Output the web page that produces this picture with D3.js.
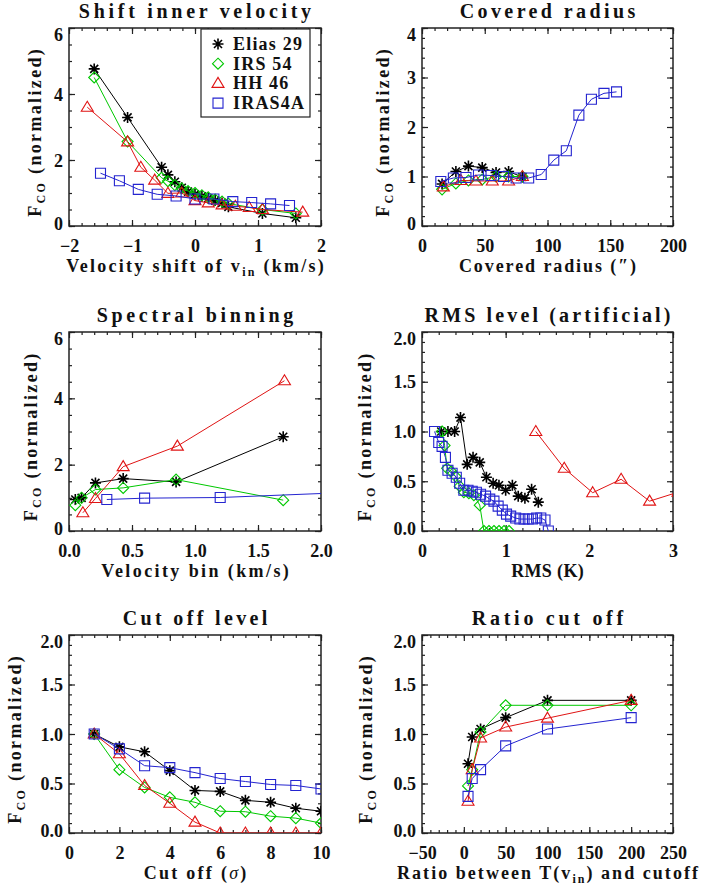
<!DOCTYPE html>
<html>
<head>
<meta charset="utf-8">
<script src="https://cdn.jsdelivr.net/npm/d3@7"></script>
<style>
  body { margin: 0; background: #fff; }
  svg text { font-family: "Liberation Serif", serif; font-weight: bold; fill: #111; }
</style>
</head>
<body>
<svg id="fig" width="701" height="890"></svg>
<script>
// values, [x, y] pairs

// Shift inner velocity
var shiftElias = [[-1.6,4.76],[-1.07,3.29],[-0.53,1.78],[-0.43,1.55],[-0.32,1.34],[-0.21,1.16],[-0.11,1.04],[0,0.96],[0.11,0.9],[0.21,0.84],[0.32,0.77],[0.43,0.7],[0.53,0.58],[1.07,0.38],[1.6,0.25]];
var shiftIrs = [[-1.6,4.5],[-1.07,2.56],[-0.53,1.46],[-0.43,1.36],[-0.32,1.24],[-0.21,1.14],[-0.11,1.06],[0,1.0],[0.11,0.93],[0.21,0.87],[0.32,0.8],[0.43,0.74],[0.53,0.68],[1.07,0.5],[1.6,0.38]];
var shiftHh = [[-1.71,3.6],[-1.07,2.55],[-0.86,1.78],[-0.64,1.39],[-0.43,0.99],[-0.21,1.0],[0,0.77],[0.21,0.7],[0.43,0.64],[0.64,0.6],[0.86,0.56],[1.07,0.5],[1.71,0.42]];
var shiftIras = [[-1.5,1.6],[-1.2,1.37],[-0.9,1.11],[-0.6,0.96],[-0.3,0.91],[0,0.82],[0.3,0.82],[0.6,0.74],[0.9,0.71],[1.2,0.67],[1.5,0.62]];

// Covered radius
var radElias = [[16,0.85],[27,1.1],[37,1.21],[48,1.18],[59,1.08],[69,1.1],[80,0.99]];
var radIrs = [[16,0.74],[27,0.86],[37,0.92],[48,0.94],[59,1.0],[69,1.0],[80,1.0]];
var radHh = [[17,0.79],[31,0.92],[43,0.91],[56,0.91],[69,0.91],[80,1.0]];
var radIras = [[15,0.9],[25,0.97],[35,0.98],[45,1.03],[55,1.02],[65,1.0],[75,0.97],[85,0.97],[95,1.04],[105,1.33],[115,1.52],[125,2.24],[135,2.56],[145,2.68],[155,2.71]];

// Spectral binning
var binElias = [[0.05,0.95],[0.1,1.0],[0.21,1.45],[0.43,1.58],[0.85,1.48],[1.7,2.84]];
var binIrs = [[0.05,0.78],[0.1,1.0],[0.21,1.25],[0.43,1.3],[0.85,1.55],[1.7,0.93]];
var binHh = [[0.11,0.55],[0.21,0.98],[0.43,1.94],[0.86,2.56],[1.71,4.53]];
var binIras = [[0.3,0.95],[0.6,0.99],[1.2,1.01],[2.4,1.19]];

// RMS level (artificial)
var rmsElias = [[0.23,1.0],[0.31,1.0],[0.39,1.0],[0.46,1.14],[0.54,0.67],[0.61,0.74],[0.69,0.69],[0.77,0.54],[0.85,0.48],[0.92,0.46],[1.0,0.41],[1.08,0.46],[1.15,0.35],[1.23,0.33],[1.31,0.42],[1.39,0.29]];
var rmsIrs = [[0.24,1.0],[0.27,0.86],[0.3,0.63],[0.35,0.6],[0.4,0.55],[0.45,0.45],[0.5,0.39],[0.56,0.38],[0.62,0.36],[0.69,0.26],[0.74,0.0],[0.8,0.0],[0.86,0.0],[0.92,0.0],[0.98,0.0],[1.04,0.0]];
var rmsHh = [[1.36,1.0],[1.7,0.63],[2.04,0.385],[2.38,0.52],[2.72,0.3],[3.06,0.39]];
var rmsIras = [[0.15,1.0],[0.2,0.89],[0.24,0.85],[0.28,0.74],[0.31,0.61],[0.36,0.58],[0.41,0.54],[0.45,0.48],[0.5,0.41],[0.55,0.41],[0.6,0.4],[0.65,0.39],[0.7,0.37],[0.76,0.35],[0.81,0.32],[0.86,0.3],[0.91,0.25],[0.96,0.21],[1.01,0.17],[1.06,0.15],[1.12,0.13],[1.17,0.12],[1.22,0.12],[1.27,0.12],[1.32,0.12],[1.37,0.13],[1.42,0.13],[1.47,0.11],[1.51,0.0]];

// Cut off level
var cutElias = [[1,1.0],[2,0.87],[3,0.82],[4,0.63],[5,0.43],[6,0.42],[7,0.33],[8,0.31],[9,0.25],[10,0.22]];
var cutIrs = [[1,1.0],[2,0.64],[3,0.46],[4,0.36],[5,0.31],[6,0.22],[7,0.215],[8,0.17],[9,0.15],[10,0.1]];
var cutHh = [[1,1.0],[2,0.8],[3,0.48],[4,0.3],[5,0.11],[6,0],[7,0],[8,0],[9,0],[10,0]];
var cutIras = [[1,1.0],[2,0.85],[3,0.68],[4,0.66],[5,0.61],[6,0.55],[7,0.52],[8,0.49],[9,0.48],[10,0.445]];

// Ratio cut off
var ratioElias = [[5,0.70],[10,0.97],[20,1.05],[50,1.165],[100,1.34],[200,1.34]];
var ratioIrs = [[5,0.475],[10,0.64],[20,1.02],[50,1.29],[100,1.29],[200,1.29]];
var ratioHh = [[5,0.32],[10,0.64],[20,0.96],[50,1.07],[100,1.16],[200,1.34]];
var ratioIras = [[5,0.37],[10,0.55],[20,0.64],[50,0.88],[100,1.05],[200,1.165]];

var sources = ["Elias 29", "IRS 54", "HH 46", "IRAS4A"];
var colors = ["#000000", "#00c800", "#e01414", "#2424d0"];
var shapes = ["asterisk", "diamond", "triangle", "square"];

var svg = d3.select("#fig");

var cols = [[69, 321], [422, 673]];
var rows = [[28, 226], [332, 531], [635, 833]];

var f1 = function(d) { return d3.format(".1f")(d); };
var f0 = function(d) { return d < 0 ? "\u2212" + Math.abs(d) : "" + d; };

var panels = [
  {title: "Shift inner velocity", tw: 236, col: 0, row: 0, xd: [-2, 2], yd: [0, 6], xt: [-2,-1,0,1,2], xm: 0.2, yt: [0,2,4,6], ym: 0.5, xf: f0, yf: f0,
   xtitle: ["Velocity shift of v", "in", " (km/s)"], xw: 260, series: [shiftElias, shiftIrs, shiftHh, shiftIras], ytx: 41, legend: true},
  {title: "Covered radius", tw: 179, col: 1, row: 0, xd: [0, 200], yd: [0, 4], xt: [0,50,100,150,200], xm: 10, yt: [0,1,2,3,4], ym: 0.2, xf: f0, yf: f0,
   xtitle: ["Covered radius (\u2033)"], xw: 179, series: [radElias, radIrs, radHh, radIras], ytx: 389},
  {title: "Spectral binning", tw: 200, col: 0, row: 1, xd: [0, 2], yd: [0, 6], xt: [0,0.5,1,1.5,2], xm: 0.1, yt: [0,2,4,6], ym: 0.5, xf: f1, yf: f0,
   xtitle: ["Velocity bin (km/s)"], xw: 190, series: [binElias, binIrs, binHh, binIras], ytx: 37},
  {title: "RMS level (artificial)", tw: 249, col: 1, row: 1, xd: [0, 3], yd: [0, 2], xt: [0,1,2,3], xm: 0.2, yt: [0,0.5,1,1.5,2], ym: 0.1, xf: f0, yf: f1,
   xtitle: ["RMS (K)"], xw: 73, series: [rmsElias, rmsIrs, rmsHh, rmsIras], ytx: 371},
  {title: "Cut off level", tw: 148, col: 0, row: 2, xd: [0, 10], yd: [0, 2], xt: [0,2,4,6,8,10], xm: 0.5, yt: [0,0.5,1,1.5,2], ym: 0.1, xf: f0, yf: f1,
   xtitle: ["Cut off (", "\u03c3", ")"], xw: 105, series: [cutElias, cutIrs, cutHh, cutIras], ytx: 21},
  {title: "Ratio cut off", tw: 155, col: 1, row: 2, xd: [-50, 250], yd: [0, 2], xt: [-50,0,50,100,150,200,250], xm: 10, yt: [0,0.5,1,1.5,2], ym: 0.1, xf: f0, yf: f1,
   xtitle: ["Ratio between T(v", "in", ") and cutoff"], xw: 303, series: [ratioElias, ratioIrs, ratioHh, ratioIras], ytx: 372}
];

function symbolPath(type) {
  if (type === "asterisk") {
    var r = 5.5, a = 4;
    return "M0,-" + r + "V" + r + "M-" + r + ",0H" + r + "M-" + a + ",-" + a + "L" + a + "," + a + "M-" + a + "," + a + "L" + a + ",-" + a;
  }
  if (type === "diamond") return "M0,-5.5L5.5,0L0,5.5L-5.5,0Z";
  if (type === "triangle") return "M0,-6L6,4L-6,4Z";
  return "M-5,-5H5V5H-5Z";
}

// stretch a text to a given width with letter spacing
function fit(t, target) {
  var node = t.node();
  var n = node.getNumberOfChars();
  var len = node.getComputedTextLength();
  var ls = (target - len) / n;
  t.attr("letter-spacing", ls);
  if (t.attr("text-anchor") === "middle") t.attr("dx", ls / 2);
}

panels.forEach(function(p, i) {
  var x0 = cols[p.col][0], x1 = cols[p.col][1];
  var y0 = rows[p.row][0], y1 = rows[p.row][1];
  var x = d3.scaleLinear().domain(p.xd).range([x0, x1]);
  var y = d3.scaleLinear().domain(p.yd).range([y1, y0]);
  var g = svg.append("g");

  var clipId = "clip" + i;
  svg.append("clipPath").attr("id", clipId)
    .append("rect").attr("x", x0).attr("y", y0).attr("width", x1 - x0).attr("height", y1 - y0);

  var xMinor = d3.range(p.xd[0], p.xd[1] + p.xm / 2, p.xm);
  var yMinor = d3.range(p.yd[0], p.yd[1] + p.ym / 2, p.ym);

  // ticks on all four sides, pointing inward
  var axes = g.append("g").attr("color", "#222");
  var bot = axes.append("g").attr("transform", "translate(0," + y1 + ")")
    .call(d3.axisBottom(x).tickValues(p.xt).tickSizeInner(-6).tickSizeOuter(0).tickFormat(p.xf));
  bot.selectAll("text").attr("y", 26).attr("dy", null);
  axes.append("g").attr("transform", "translate(0," + y1 + ")")
    .call(d3.axisBottom(x).tickValues(xMinor).tickSize(-3).tickFormat(""));
  axes.append("g").attr("transform", "translate(0," + y0 + ")")
    .call(d3.axisTop(x).tickValues(p.xt).tickSize(-6).tickFormat(""));
  axes.append("g").attr("transform", "translate(0," + y0 + ")")
    .call(d3.axisTop(x).tickValues(xMinor).tickSize(-3).tickFormat(""));
  var left = axes.append("g").attr("transform", "translate(" + x0 + ",0)")
    .call(d3.axisLeft(y).tickValues(p.yt).tickSizeInner(-6).tickSizeOuter(0).tickPadding(6).tickFormat(p.yf));
  left.selectAll("text").attr("dy", "0.34em")
    .attr("y", function(d) { return d === p.yd[1] ? 6 : (d === p.yd[0] ? -3 : 0); });
  axes.append("g").attr("transform", "translate(" + x0 + ",0)")
    .call(d3.axisLeft(y).tickValues(yMinor).tickSize(-3).tickFormat(""));
  axes.append("g").attr("transform", "translate(" + x1 + ",0)")
    .call(d3.axisRight(y).tickValues(p.yt).tickSize(-6).tickFormat(""));
  axes.append("g").attr("transform", "translate(" + x1 + ",0)")
    .call(d3.axisRight(y).tickValues(yMinor).tickSize(-3).tickFormat(""));
  axes.selectAll(".domain").remove();
  axes.selectAll("line").attr("stroke-width", 1.2);
  axes.selectAll("text").attr("font-size", 18).attr("font-family", null).attr("fill", "#111");

  g.append("rect").attr("x", x0).attr("y", y0).attr("width", x1 - x0).attr("height", y1 - y0)
    .attr("fill", "none").attr("stroke", "#222").attr("stroke-width", 1.5);

  // data
  var plot = g.append("g").attr("clip-path", "url(#" + clipId + ")");
  var line = d3.line().x(function(d) { return x(d[0]); }).y(function(d) { return y(d[1]); });
  p.series.forEach(function(s, k) {
    plot.append("path").datum(s).attr("d", line)
      .attr("fill", "none").attr("stroke", colors[k]).attr("stroke-width", 1);
    plot.selectAll(null).data(s).enter().append("path")
      .attr("transform", function(d) { return "translate(" + x(d[0]) + "," + y(d[1]) + ")"; })
      .attr("d", symbolPath(shapes[k]))
      .attr("fill", "none").attr("stroke", colors[k])
      .attr("stroke-width", k === 0 ? 1.6 : 1.1);
  });

  // titles
  var cx = (x0 + x1) / 2;
  var t = g.append("text").attr("x", cx).attr("y", y0 - 10).attr("text-anchor", "middle")
    .attr("font-size", 20).text(p.title);
  fit(t, p.tw);

  var xt = g.append("text").attr("x", cx).attr("y", y1 + 46).attr("text-anchor", "middle").attr("font-size", 18);
  xt.append("tspan").text(p.xtitle[0]);
  if (p.xtitle.length > 1) {
    if (p.xtitle[1] === "\u03c3") {
      xt.append("tspan").attr("font-style", "italic").attr("font-weight", "normal").text(p.xtitle[1]);
    } else {
      xt.append("tspan").attr("font-size", 12).attr("dy", 4).text(p.xtitle[1]);
    }
    xt.append("tspan").attr("dy", p.xtitle[1] === "\u03c3" ? 0 : -4).text(p.xtitle[2]);
  }
  fit(xt, p.xw);

  var yt = g.append("text").attr("text-anchor", "middle").attr("font-size", 18)
    .attr("transform", "translate(" + p.ytx + "," + ((y0 + y1) / 2 + 6) + ") rotate(-90)");
  yt.append("tspan").text("F");
  yt.append("tspan").attr("font-size", 12).attr("dy", 4).text("CO");
  yt.append("tspan").attr("dy", -4).text(" (normalized)");
  fit(yt, 170);

  if (p.legend) {
    var lg = g.append("g");
    lg.append("rect").attr("x", 201).attr("y", 29).attr("width", 109).attr("height", 88)
      .attr("fill", "#fff").attr("stroke", "#222").attr("stroke-width", 1.2);
    sources.forEach(function(name, k) {
      var ly = 44 + k * 19.7;
      lg.append("path").attr("transform", "translate(218," + ly + ")").attr("d", symbolPath(shapes[k]))
        .attr("fill", "none").attr("stroke", colors[k]).attr("stroke-width", k === 0 ? 1.6 : 1.1);
      lg.append("text").attr("x", 233).attr("y", ly + 6).attr("font-size", 18)
        .attr("letter-spacing", 1.2).text(name);
    });
  }
});
</script>
</body>
</html>
